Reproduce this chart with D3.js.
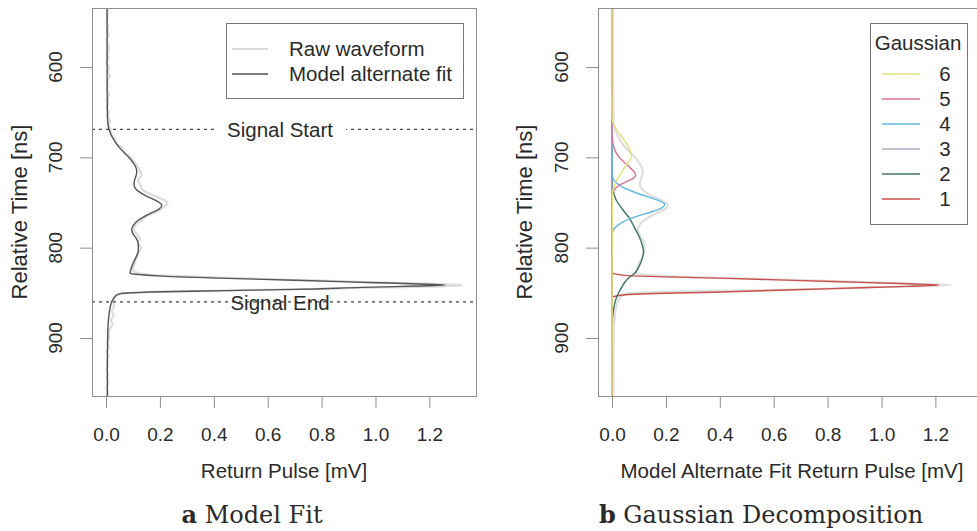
<!DOCTYPE html>
<html>
<head>
<meta charset="utf-8">
<script src="https://cdn.jsdelivr.net/npm/d3@7"></script>
<style>
  body { margin: 0; background: #fff; }
  svg { display: block; }
  text { font-family: "Liberation Sans", Arial, sans-serif; fill: #2a2a2a; }
  .caption { font-family: "DejaVu Serif", "Liberation Serif", serif; }
</style>
</head>
<body>
<div id="chart"></div>
<script>
// values (time in ns, pulse in mV)
var timeTicks = [600, 700, 800, 900];
var pulseTicks = [0, 0.2, 0.4, 0.6, 0.8, 1.0, 1.2];
var pulseTickLabels = ["0.0", "0.2", "0.4", "0.6", "0.8", "1.0", "1.2"];

var signalStart = 669;
var signalEnd = 860;

var rawTime = [530, 545, 550, 555, 560, 565, 570, 575, 580, 585, 590, 595, 600, 605, 610, 615, 620, 625, 630, 635,
  640, 645, 650, 655, 660, 665, 670, 675, 680, 685, 690, 695, 700, 705, 710, 715, 720, 725, 730, 735, 740, 745,
  750, 755, 760, 765, 770, 775, 780, 785, 790, 795, 800, 805, 810, 815, 820, 825,
  826, 827, 828, 829, 830, 831, 832, 833, 834, 835, 836, 837, 838, 839, 840, 841, 842, 843, 844, 845, 846, 847,
  848, 849, 850, 851, 852, 853, 854, 855, 856,
  860, 865, 870, 875, 880, 885, 890, 895, 900, 905, 910, 915, 920, 925, 930, 935, 940, 945, 950, 955, 960, 970];
var rawPulse = [0.004, 0.006, 0.002, 0.008, 0.004, 0.010, 0.003, 0.007, 0.012, 0.004, 0.009, 0.002, 0.011, 0.006, 0.015, 0.004, 0.008, 0.003, 0.012, 0.006,
  0.009, 0.004, 0.010, 0.008, 0.013, 0.010, 0.018, 0.020, 0.034, 0.040, 0.062, 0.068, 0.090, 0.104, 0.118, 0.126, 0.132, 0.118, 0.128, 0.132, 0.160, 0.198,
  0.228, 0.214, 0.190, 0.152, 0.130, 0.108, 0.104, 0.114, 0.126, 0.118, 0.130, 0.122, 0.116, 0.108, 0.104, 0.098,
  0.104, 0.110, 0.118, 0.140, 0.170, 0.230, 0.320, 0.420, 0.520, 0.630, 0.740, 0.850, 0.960, 1.080, 1.200, 1.300, 1.320, 1.220, 1.040, 0.860, 0.700, 0.520,
  0.330, 0.180, 0.090, 0.060, 0.045, 0.038, 0.034, 0.030, 0.032,
  0.026, 0.030, 0.022, 0.028, 0.018, 0.024, 0.014, 0.010, 0.012, 0.006, 0.010, 0.004, 0.008, 0.003, 0.007, 0.002, 0.006, 0.004, 0.008, 0.003, 0.005, 0.004];

var modelTime = [530, 600, 650, 660, 665, 670, 677, 684, 692, 699, 706, 712, 716, 720, 725, 730, 734, 738, 743, 748,
  753, 757, 761, 765, 770, 775, 780, 785, 790, 796, 803, 810, 817, 823, 828.5, 830, 831.5, 834, 836, 838.5, 840.5,
  841.4, 842.5, 844, 846.2, 847.5, 848.8, 849.8, 850.6, 852, 854.4, 858, 865, 872, 880, 900, 930, 970];
var modelPulse = [0.004, 0.004, 0.005, 0.006, 0.008, 0.012, 0.022, 0.036, 0.058, 0.082, 0.101, 0.112, 0.114, 0.112, 0.106, 0.104, 0.108, 0.122, 0.150, 0.186,
  0.207, 0.198, 0.172, 0.145, 0.118, 0.102, 0.095, 0.101, 0.113, 0.120, 0.120, 0.112, 0.101, 0.093, 0.089, 0.130, 0.207, 0.450, 0.700, 0.970, 1.190,
  1.258, 1.150, 0.950, 0.700, 0.450, 0.207, 0.110, 0.058, 0.042, 0.033, 0.024, 0.016, 0.012, 0.009, 0.006, 0.005, 0.005];

// gaussian components of the alternate fit
var g1Time = [530, 826, 828.5, 829.5, 831, 834, 837.5, 840, 841.4, 842.8, 845.3, 848.8, 851.8, 853.3, 854.3, 856, 970];
var g1Pulse = [0, 0, 0.004, 0.020, 0.060, 0.436, 0.820, 1.100, 1.213, 1.100, 0.820, 0.436, 0.060, 0.020, 0.004, 0, 0];
var g2Time = [530, 725, 736, 747, 758, 768, 777, 786, 795, 805, 814, 822, 828, 832, 838, 847, 854, 862, 870, 885, 970];
var g2Pulse = [0, 0, 0.004, 0.015, 0.040, 0.066, 0.082, 0.098, 0.110, 0.117, 0.110, 0.098, 0.085, 0.068, 0.048, 0.030, 0.018, 0.010, 0.005, 0.001, 0];
var g3Time = [530, 970];
var g3Pulse = [0, 0];
var g4Time = [530, 718, 725, 731, 737, 742, 747, 752, 756, 760, 765, 770, 775, 780, 786, 970];
var g4Pulse = [0, 0, 0.006, 0.028, 0.070, 0.115, 0.165, 0.196, 0.185, 0.150, 0.095, 0.050, 0.022, 0.006, 0, 0];
var g5Time = [530, 673, 688, 701, 710, 717, 720, 723, 727, 731, 736, 740, 970];
var g5Pulse = [0, 0, 0.006, 0.030, 0.062, 0.084, 0.088, 0.080, 0.054, 0.026, 0.008, 0, 0];
var g6Time = [530, 655, 662, 670, 678, 686, 693, 698, 703, 710, 718, 726, 734, 742, 970];
var g6Pulse = [0, 0, 0.004, 0.018, 0.038, 0.056, 0.068, 0.072, 0.066, 0.050, 0.032, 0.016, 0.006, 0.001, 0];

var gaussianNames = ["1", "2", "3", "4", "5", "6"];
var gaussianTimes = [g1Time, g2Time, g3Time, g4Time, g5Time, g6Time];
var gaussianPulses = [g1Pulse, g2Pulse, g3Pulse, g4Pulse, g5Pulse, g6Pulse];
var gaussianColors = ["#c9504c", "#3f7465", "#a9adc2", "#62b7e6", "#de7396", "#e3e376"];

var w = 977;
var h = 531;
var boxColor = "#8f8f8f";

var svg = d3.select("#chart")
    .append("svg")
    .attr("width", w)
    .attr("height", h);

function toPoints(ts, vs) {
    var pts = [];
    for (var i = 0; i < ts.length; i++) {
        pts.push({ t: ts[i], v: vs[i] });
    }
    return pts;
}

// one R-style panel: box, ticks, labels, clip
function makePanel(id, left, yLabelX, yTitleX) {
    var x = d3.scaleLinear().domain([-0.052, 1.373]).range([left, left + 384]);
    var y = d3.scaleLinear().domain([534.7, 965.3]).range([8, 397]);

    svg.append("clipPath")
        .attr("id", id)
        .append("rect")
        .attr("x", left)
        .attr("y", 8)
        .attr("width", 384)
        .attr("height", 389);

    var xAxis = svg.append("g")
        .attr("transform", "translate(0,397)")
        .call(d3.axisBottom(x)
            .tickValues(pulseTicks)
            .tickFormat(function(d, i) { return pulseTickLabels[i]; })
            .tickSize(11)
            .tickSizeOuter(0)
            .tickPadding(20));
    xAxis.select(".domain").remove();
    xAxis.selectAll("line").attr("stroke", boxColor);
    xAxis.selectAll("text")
        .attr("font-size", "19px")
        .attr("font-family", "Liberation Sans, Arial, sans-serif")
        .attr("fill", "#2a2a2a");

    var yAxis = svg.append("g")
        .attr("transform", "translate(" + left + ",0)")
        .call(d3.axisLeft(y).tickValues(timeTicks).tickFormat("").tickSize(12).tickSizeOuter(0));
    yAxis.select(".domain").remove();
    yAxis.selectAll("line").attr("stroke", boxColor);

    svg.selectAll(".ylab-" + id)
        .data(timeTicks)
        .enter()
        .append("text")
        .attr("class", "ylab-" + id)
        .attr("text-anchor", "middle")
        .attr("font-size", "19px")
        .attr("transform", function(d) {
            return "translate(" + yLabelX + "," + y(d) + ") rotate(-90)";
        })
        .text(function(d) { return d; });

    svg.append("text")
        .attr("text-anchor", "middle")
        .attr("font-size", "22px")
        .attr("transform", "translate(" + yTitleX + ",212) rotate(-90)")
        .text("Relative Time [ns]");

    var plot = svg.append("g").attr("clip-path", "url(#" + id + ")");

    return { x: x, y: y, plot: plot, left: left };
}

function drawBox(p) {
    svg.append("rect")
        .attr("x", p.left + 0.5)
        .attr("y", 8.5)
        .attr("width", 384)
        .attr("height", 388)
        .attr("fill", "none")
        .attr("stroke", boxColor);
}

function lineFor(p) {
    return d3.line()
        .x(function(d) { return p.x(d.v); })
        .y(function(d) { return p.y(d.t); })
        .curve(d3.curveMonotoneY);
}

// ---- panel a: model fit
var pa = makePanel("clipA", 92, 62, 27);
var lineA = lineFor(pa);

pa.plot.append("path")
    .datum(toPoints(rawTime, rawPulse))
    .attr("d", lineA)
    .attr("fill", "none")
    .attr("stroke", "#dcdcdc")
    .attr("stroke-width", 2.2);

pa.plot.append("path")
    .datum(toPoints(modelTime, modelPulse))
    .attr("d", lineA)
    .attr("fill", "none")
    .attr("stroke", "#555")
    .attr("stroke-width", 1.4);

var markers = [
    { t: signalStart, label: "Signal Start" },
    { t: signalEnd, label: "Signal End" }
];
markers.forEach(function(m) {
    pa.plot.append("line")
        .attr("x1", pa.left)
        .attr("x2", pa.left + 384)
        .attr("y1", pa.y(m.t))
        .attr("y2", pa.y(m.t))
        .attr("stroke", "#444")
        .attr("stroke-width", 1.3)
        .attr("stroke-dasharray", "3,4");
    var txt = pa.plot.append("text")
        .attr("x", 280)
        .attr("y", pa.y(m.t) + 8)
        .attr("text-anchor", "middle")
        .attr("font-size", "20.5px")
        .text(m.label);
    var bb = txt.node().getBBox();
    pa.plot.insert("rect", "text")
        .attr("x", bb.x - 13)
        .attr("y", pa.y(m.t) - 4)
        .attr("width", bb.width + 26)
        .attr("height", 8)
        .attr("fill", "#fff");
});

drawBox(pa);

// legend a
var legA = svg.append("g");
legA.append("rect")
    .attr("x", 226.5).attr("y", 23.5)
    .attr("width", 237).attr("height", 75)
    .attr("fill", "#fff")
    .attr("stroke", "#777");
var legAItems = [
    { label: "Raw waveform", color: "#dcdcdc", width: 2.2 },
    { label: "Model alternate fit", color: "#555", width: 1.4 }
];
legA.selectAll("line")
    .data(legAItems)
    .enter()
    .append("line")
    .attr("x1", 232).attr("x2", 268)
    .attr("y1", function(d, i) { return 49 + i * 25; })
    .attr("y2", function(d, i) { return 49 + i * 25; })
    .attr("stroke", function(d) { return d.color; })
    .attr("stroke-width", function(d) { return d.width; });
legA.selectAll("text")
    .data(legAItems)
    .enter()
    .append("text")
    .attr("x", 289)
    .attr("y", function(d, i) { return 56 + i * 25; })
    .attr("font-size", "20.5px")
    .text(function(d) { return d.label; });

svg.append("text")
    .attr("x", 284).attr("y", 478)
    .attr("text-anchor", "middle")
    .attr("font-size", "20.5px")
    .text("Return Pulse [mV]");

var capA = svg.append("text")
    .attr("class", "caption")
    .attr("x", 252).attr("y", 523)
    .attr("text-anchor", "middle")
    .attr("font-size", "24px");
capA.append("tspan").attr("font-weight", "bold").text("a");
capA.append("tspan").text(" Model Fit");

// ---- panel b: gaussian decomposition, full fit faint behind
var pb = makePanel("clipB", 598, 568, 532);
var lineB = lineFor(pb);

pb.plot.append("path")
    .datum(toPoints(modelTime, modelPulse))
    .attr("d", lineB)
    .attr("fill", "none")
    .attr("stroke", "#dedede")
    .attr("stroke-width", 2.2);

for (var k = 0; k < gaussianNames.length; k++) {
    pb.plot.append("path")
        .datum(toPoints(gaussianTimes[k], gaussianPulses[k]))
        .attr("d", lineB)
        .attr("fill", "none")
        .attr("stroke", gaussianColors[k])
        .attr("stroke-width", 1.4);
}

drawBox(pb);

// legend b (6 on top)
var legB = svg.append("g");
legB.append("rect")
    .attr("x", 870.5).attr("y", 23.5)
    .attr("width", 97).attr("height", 201)
    .attr("fill", "#fff")
    .attr("stroke", "#777");
legB.append("text")
    .attr("x", 918).attr("y", 50)
    .attr("text-anchor", "middle")
    .attr("font-size", "20.5px")
    .text("Gaussian");
var legBOrder = d3.range(gaussianNames.length).reverse();
legB.selectAll("line")
    .data(legBOrder)
    .enter()
    .append("line")
    .attr("x1", 882).attr("x2", 920)
    .attr("y1", function(d, i) { return 74 + i * 25; })
    .attr("y2", function(d, i) { return 74 + i * 25; })
    .attr("stroke", function(d) { return gaussianColors[d]; })
    .attr("stroke-width", 1.4);
legB.selectAll(".gl")
    .data(legBOrder)
    .enter()
    .append("text")
    .attr("class", "gl")
    .attr("x", 945)
    .attr("y", function(d, i) { return 81 + i * 25; })
    .attr("text-anchor", "middle")
    .attr("font-size", "20.5px")
    .text(function(d) { return gaussianNames[d]; });

svg.append("text")
    .attr("x", 792).attr("y", 478)
    .attr("text-anchor", "middle")
    .attr("font-size", "20.5px")
    .text("Model Alternate Fit Return Pulse [mV]");

var capB = svg.append("text")
    .attr("class", "caption")
    .attr("x", 761).attr("y", 523)
    .attr("text-anchor", "middle")
    .attr("font-size", "24px");
capB.append("tspan").attr("font-weight", "bold").text("b");
capB.append("tspan").text(" Gaussian Decomposition");
</script>
</body>
</html>
